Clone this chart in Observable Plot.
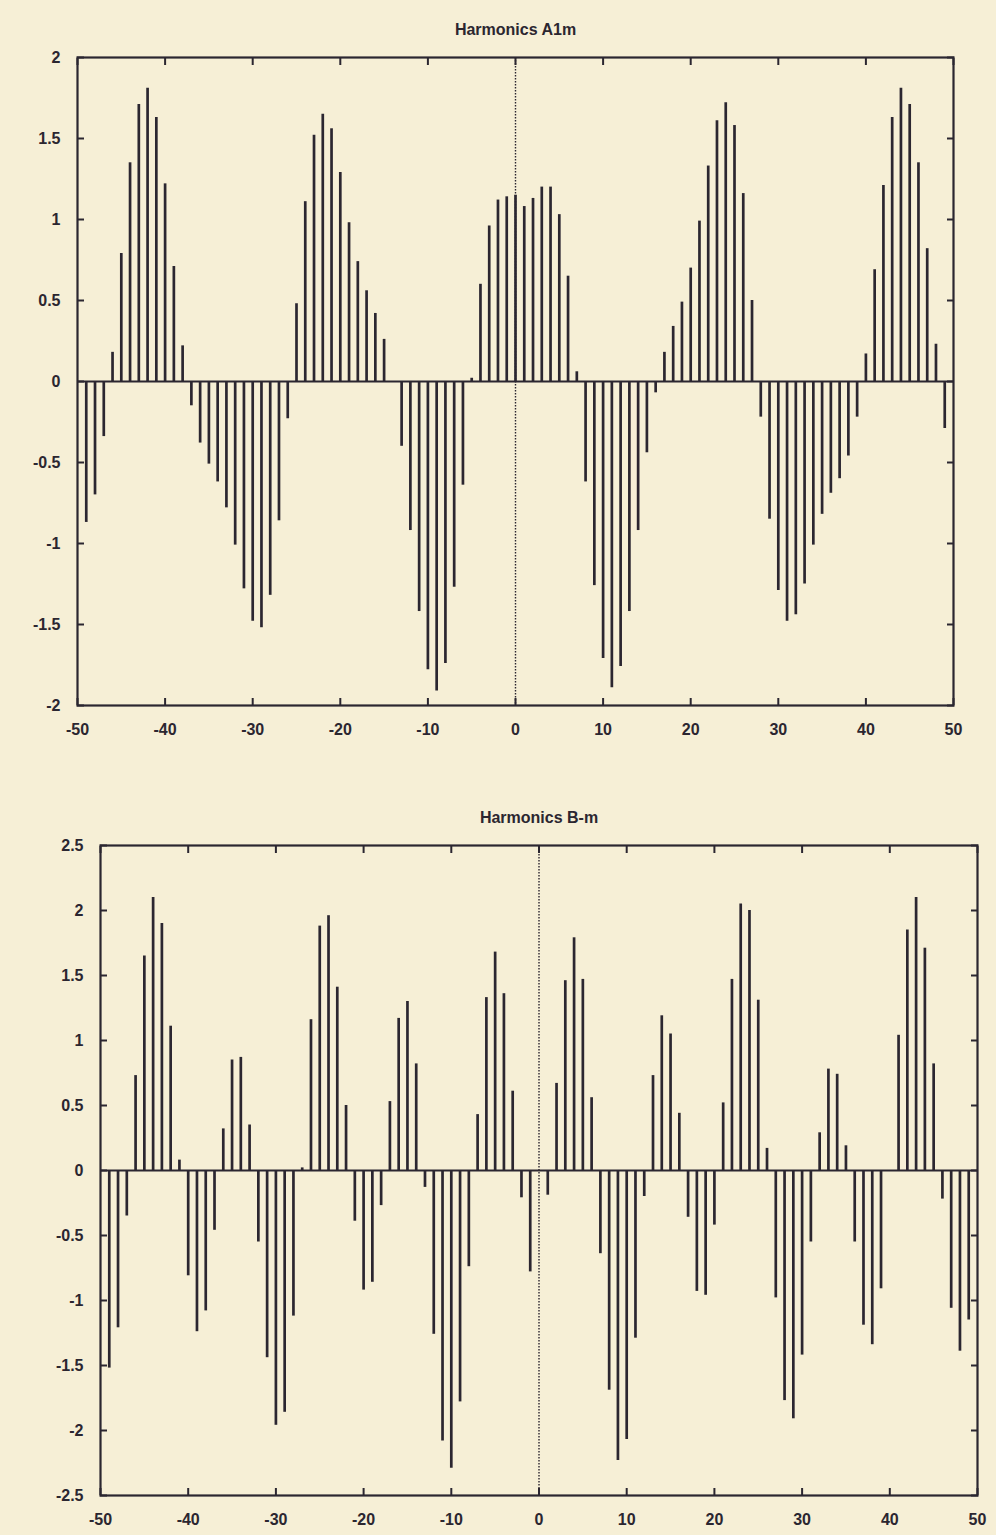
<!DOCTYPE html>
<html><head><meta charset="utf-8">
<script src="https://cdn.jsdelivr.net/npm/d3@7"></script>
<script src="https://cdn.jsdelivr.net/npm/@observablehq/plot@0.6"></script>
<style>
html,body{margin:0;padding:0;}
body{background:#f6efd6;width:996px;height:1535px;overflow:hidden;position:relative;font-family:"Liberation Sans",Arial,sans-serif;}
#c1{position:absolute;left:0;top:0;}
#c2{position:absolute;left:0;top:790px;}
</style></head><body>
<div id="c1"></div><div id="c2"></div>
<script>
// harmonic index m = -50 ... 50
const harmonics = d3.range(-50, 51);

// Harmonics A1m
const a1m = [
  0, -0.87, -0.70, -0.34, 0.18, 0.79, 1.35, 1.71, 1.81, 1.63,
  1.22, 0.71, 0.22, -0.15, -0.38, -0.51, -0.62, -0.78, -1.01, -1.28,
  -1.48, -1.52, -1.32, -0.86, -0.23, 0.48, 1.11, 1.52, 1.65, 1.56,
  1.29, 0.98, 0.74, 0.56, 0.42, 0.26, 0, -0.40, -0.92, -1.42,
  -1.78, -1.91, -1.74, -1.27, -0.64, 0.02, 0.60, 0.96, 1.12, 1.14,
  1.15,
  1.08, 1.13, 1.20, 1.20, 1.03, 0.65, 0.06, -0.62, -1.26, -1.71,
  -1.89, -1.76, -1.42, -0.92, -0.44, -0.07, 0.18, 0.34, 0.49, 0.70,
  0.99, 1.33, 1.61, 1.72, 1.58, 1.16, 0.50, -0.22, -0.85, -1.29,
  -1.48, -1.44, -1.25, -1.01, -0.82, -0.69, -0.60, -0.46, -0.22, 0.17,
  0.69, 1.21, 1.63, 1.81, 1.71, 1.35, 0.82, 0.23, -0.29, 0
];

// Harmonics B-m
const bm = [
  0, -1.52, -1.21, -0.35, 0.73, 1.65, 2.10, 1.90, 1.11, 0.08,
  -0.81, -1.24, -1.08, -0.46, 0.32, 0.85, 0.87, 0.35, -0.55, -1.44,
  -1.96, -1.86, -1.12, 0.02, 1.16, 1.88, 1.96, 1.41, 0.50, -0.39,
  -0.92, -0.86, -0.27, 0.53, 1.17, 1.30, 0.82, -0.13, -1.26, -2.08,
  -2.29, -1.78, -0.74, 0.43, 1.33, 1.68, 1.36, 0.61, -0.21, -0.78,
  0,
  -0.19, 0.67, 1.46, 1.79, 1.47, 0.56, -0.64, -1.69, -2.23, -2.07,
  -1.29, -0.20, 0.73, 1.19, 1.05, 0.44, -0.36, -0.93, -0.96, -0.42,
  0.52, 1.47, 2.05, 2.00, 1.31, 0.17, -0.98, -1.77, -1.91, -1.42,
  -0.55, 0.29, 0.78, 0.74, 0.19, -0.55, -1.19, -1.34, -0.91, 0.00,
  1.04, 1.85, 2.10, 1.71, 0.82, -0.22, -1.06, -1.39, -1.15, 0
];

const xTicks = [-50, -40, -30, -20, -10, 0, 10, 20, 30, 40, 50];
const yTicksA = [-2, -1.5, -1, -0.5, 0, 0.5, 1, 1.5, 2];
const yTicksB = [-2.5, -2, -1.5, -1, -0.5, 0, 0.5, 1, 1.5, 2, 2.5];

const titleA = "Harmonics A1m";
const titleB = "Harmonics B-m";

const ink = "#2b2630";
const fmt = d => String(d);

function chart(values, yDomain, yTicks, title, dims) {
  const data = harmonics.map((m, i) => ({m, v: values[i]}));
  return Plot.plot({
    width: 996,
    height: dims.height,
    marginLeft: dims.left,
    marginRight: dims.right,
    marginTop: dims.top,
    marginBottom: dims.bottom,
    style: {background: "transparent", fontFamily: "'Liberation Sans', Arial, sans-serif", fontSize: "16px", fontWeight: "bold", color: ink},
    x: {domain: [-50, 50], label: null},
    y: {domain: yDomain, label: null},
    marks: [
      Plot.ruleY([0], {stroke: ink, strokeWidth: 1.8}),
      Plot.ruleX([0], {stroke: ink, strokeWidth: 1.4, strokeDasharray: "1.5,1.5"}),
      Plot.ruleX(data, {x: "m", y1: 0, y2: "v", stroke: ink, strokeWidth: 2.7}),
      Plot.frame({stroke: ink, strokeWidth: 2.2}),
      Plot.axisX({anchor: "bottom", ticks: xTicks, tickSize: -7, tickPadding: 25, tickFormat: fmt, strokeWidth: 2, fontSize: 16, fontWeight: "bold"}),
      Plot.axisX({anchor: "top", ticks: xTicks, tickSize: -7, tickFormat: () => "", strokeWidth: 2}),
      Plot.axisY({anchor: "left", ticks: yTicks, tickSize: -7, tickPadding: 24, tickFormat: fmt, strokeWidth: 2, fontSize: 16, fontWeight: "bold"}),
      Plot.axisY({anchor: "right", ticks: yTicks, tickSize: -7, tickFormat: () => "", strokeWidth: 2}),
      Plot.text([title], {frameAnchor: "top", dy: -34, fontSize: 16, fontWeight: "bold", fill: ink})
    ]
  });
}

document.getElementById("c1").appendChild(
  chart(a1m, [-2, 2], yTicksA, titleA, {height: 750, left: 77, right: 43, top: 57, bottom: 45})
);
document.getElementById("c2").appendChild(
  chart(bm, [-2.5, 2.5], yTicksB, titleB, {height: 745, left: 100, right: 19, top: 55, bottom: 40})
);
</script>
</body></html>
